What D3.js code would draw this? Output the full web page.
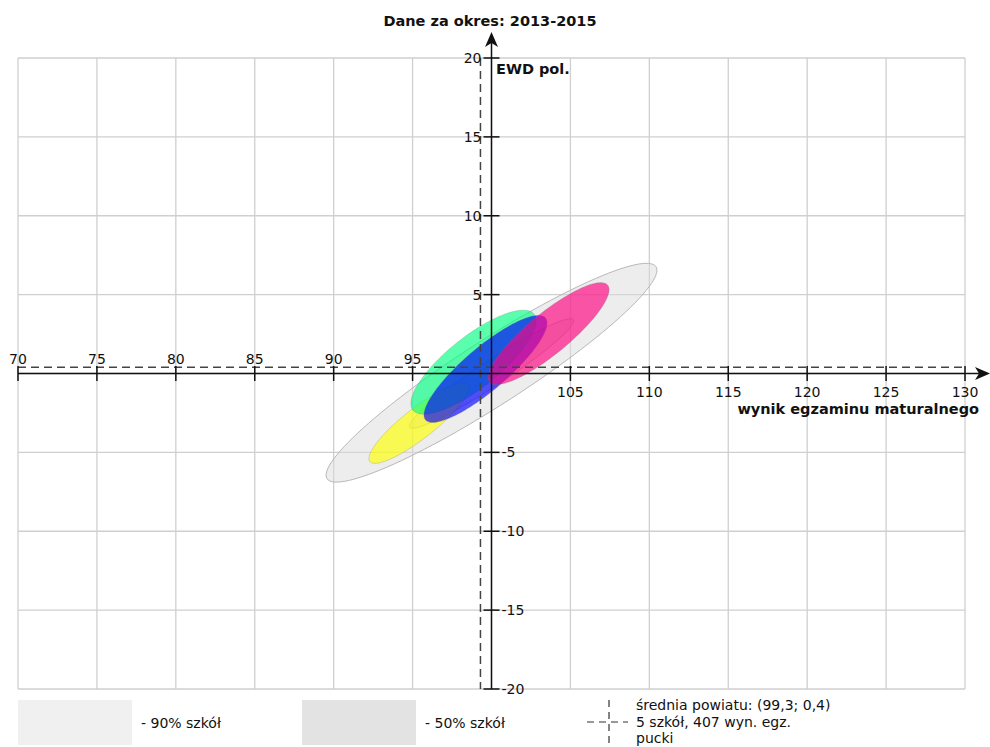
<!DOCTYPE html>
<html><head><meta charset="utf-8">
<script src="https://cdn.jsdelivr.net/npm/d3@7"></script>
<style>
body{margin:0;background:#fff}
text{font-family:"DejaVu Sans",sans-serif;fill:#111}
</style>
</head><body>
<svg id="chart" width="990" height="747"></svg>
<script>
// ---------- data ----------
const xTicks = [70, 75, 80, 85, 90, 95, 100, 105, 110, 115, 120, 125, 130];
const yTicks = [-20, -15, -10, -5, 0, 5, 10, 15, 20];
const titleText = "Dane za okres: 2013-2015";
const xLabelText = "wynik egzaminu maturalnego";
const yLabelText = "EWD pol.";
const meanPoint = [99.3, 0.4];

// reference bands (90% / 50% of schools): centre, semi-axes, rotation (deg)
const bandNames = ["- 90% szkół", "- 50% szkół"];
const bandCx = [100.0, 100.0];
const bandCy = [0.05, 0.0];
const bandA = [12.4, 6.2];
const bandB = [2.05, 0.8];
const bandAngle = [32.8, 33.3];

// schools: centre, semi-axes, rotation (deg)
const schoolCx = [95.4, 98.86, 99.62, 103.62];
const schoolCy = [-3.15, 0.72, 0.29, 2.53];
const schoolA = [3.95, 4.9, 4.99, 4.84];
const schoolB = [0.97, 1.62, 1.36, 1.3];
const schoolAngle = [38, 38.4, 40.4, 39.4];
const schoolColors = ["#ffff00", "#00ff7f", "#0000ff", "#ff0080"];

const legendLines = ["średnia powiatu: (99,3; 0,4)", "5 szkół, 407 wyn. egz.", "pucki"];

// ---------- layout ----------
const svg = d3.select("#chart");
const x = d3.scaleLinear().domain([70, 130]).range([18, 965]);
const y = d3.scaleLinear().domain([-20, 20]).range([689, 58]);
const X0 = x(100), Y0 = y(0);

// grid
const grid = svg.append("g").attr("stroke", "#cfcfcf").attr("stroke-width", 1.3);
xTicks.forEach(t => grid.append("line").attr("x1", x(t)).attr("x2", x(t)).attr("y1", y(20)).attr("y2", y(-20)));
yTicks.forEach(t => grid.append("line").attr("y1", y(t)).attr("y2", y(t)).attr("x1", x(70)).attr("x2", x(130)));

function ellipsePts(cx, cy, a, b, ang) {
  const th = ang * Math.PI / 180, pts = [];
  for (let i = 0; i < 120; i++) {
    const t = i / 120 * 2 * Math.PI;
    const u = a * Math.cos(t), v = b * Math.sin(t);
    pts.push([cx + u * Math.cos(th) - v * Math.sin(th), cy + u * Math.sin(th) + v * Math.cos(th)]);
  }
  return pts;
}
const line = d3.line().x(d => x(d[0])).y(d => y(d[1])).curve(d3.curveLinearClosed);

// bands
const bandFill = ["#dcdcdc", "#c4c4c4"];
const bandOp = [0.5, 0.35];
bandCx.forEach((c, i) => {
  svg.append("path").attr("d", line(ellipsePts(c, bandCy[i], bandA[i], bandB[i], bandAngle[i])))
    .attr("fill", bandFill[i]).attr("fill-opacity", bandOp[i])
    .attr("stroke", "#b8b8b8").attr("stroke-width", 1);
});

// schools
schoolCx.forEach((c, i) => {
  svg.append("path").attr("d", line(ellipsePts(c, schoolCy[i], schoolA[i], schoolB[i], schoolAngle[i])))
    .attr("fill", schoolColors[i]).attr("fill-opacity", 0.65)
    .attr("stroke", "#777").attr("stroke-opacity", 0.25).attr("stroke-width", 1);
});

// mean dashed lines
const dash = svg.append("g").attr("stroke", "#444").attr("stroke-width", 1.5).attr("stroke-dasharray", "8,5");
dash.append("line").attr("x1", x(70)).attr("x2", x(130)).attr("y1", y(meanPoint[1])).attr("y2", y(meanPoint[1]));
dash.append("line").attr("x1", x(meanPoint[0])).attr("x2", x(meanPoint[0])).attr("y1", y(20)).attr("y2", y(-20));

// axes
const ax = svg.append("g").attr("stroke", "#111").attr("stroke-width", 1.5);
ax.append("line").attr("x1", x(70)).attr("x2", 980).attr("y1", Y0).attr("y2", Y0);
ax.append("line").attr("x1", X0).attr("x2", X0).attr("y1", y(-20)).attr("y2", 40);
svg.append("path").attr("fill", "#111")
  .attr("d", `M${X0},32 L${X0 - 6.5},47 L${X0},43 L${X0 + 6.5},47 Z`);
svg.append("path").attr("fill", "#111")
  .attr("d", `M990,${Y0} L975,${Y0 - 6.5} L979,${Y0} L975,${Y0 + 6.5} Z`);

xTicks.filter(t => t !== 100).forEach(t => {
  ax.append("line").attr("x1", x(t)).attr("x2", x(t)).attr("y1", Y0 - 7.5).attr("y2", Y0 + 7.5);
  svg.append("text").attr("x", x(t)).attr("y", t < 100 ? Y0 - 10 : Y0 + 23)
    .attr("text-anchor", "middle").attr("font-size", 14).text(t);
});
yTicks.filter(t => t !== 0).forEach(t => {
  ax.append("line").attr("x1", X0 - 8).attr("x2", X0 + 8).attr("y1", y(t)).attr("y2", y(t));
  svg.append("text").attr("x", t > 0 ? X0 - 10 : X0 + 10).attr("y", y(t) + 5)
    .attr("text-anchor", t > 0 ? "end" : "start").attr("font-size", 14).text(t);
});

// titles
svg.append("text").attr("x", 490).attr("y", 26).attr("text-anchor", "middle")
  .attr("font-size", 14.5).attr("font-weight", "bold").text(titleText);
svg.append("text").attr("x", 496).attr("y", 74)
  .attr("font-size", 14.5).attr("font-weight", "bold").text(yLabelText);
svg.append("text").attr("x", 979).attr("y", 414).attr("text-anchor", "end")
  .attr("font-size", 14.5).attr("font-weight", "bold").text(xLabelText);

// legend
const legBoxX = [18, 302];
const legBoxFill = ["#f0f0f0", "#e3e3e3"];
bandNames.forEach((n, i) => {
  svg.append("rect").attr("x", legBoxX[i]).attr("y", 700).attr("width", 114).attr("height", 45).attr("fill", legBoxFill[i]);
  svg.append("text").attr("x", legBoxX[i] + 123).attr("y", 728).attr("font-size", 14).text(n);
});
const lg = svg.append("g").attr("stroke", "#333").attr("stroke-width", 1.2).attr("stroke-dasharray", "7,5");
lg.append("line").attr("x1", 609).attr("x2", 609).attr("y1", 700).attr("y2", 746);
lg.append("line").attr("x1", 587).attr("x2", 628).attr("y1", 722).attr("y2", 722);
legendLines.forEach((s, i) => {
  svg.append("text").attr("x", 636).attr("y", 710 + i * 16.5).attr("font-size", 14).text(s);
});
</script>
</body></html>
